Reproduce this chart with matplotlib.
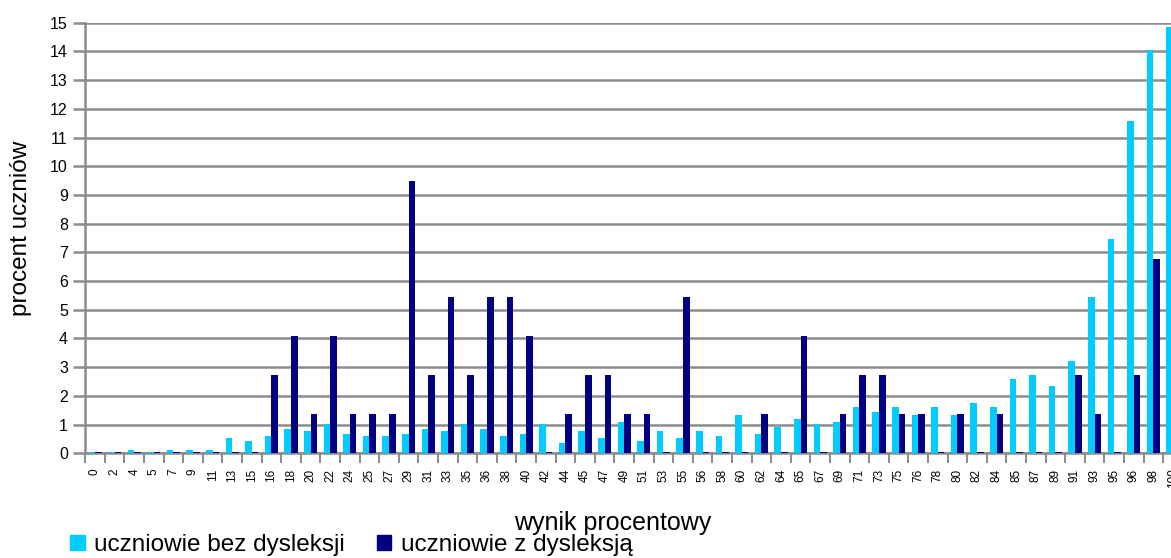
import matplotlib
matplotlib.use("Agg")
import matplotlib.pyplot as plt
from matplotlib.patches import Patch
import numpy as np

plt.rcParams['font.family'] = ['Liberation Sans', 'DejaVu Sans']

# wynik procentowy (categories)
wyniki = ['0', '2', '4', '5', '7', '9', '11', '13', '15', '16', '18', '20', '22', '24',
          '25', '27', '29', '31', '33', '35', '36', '38', '40', '42', '44', '45', '47',
          '49', '51', '53', '55', '56', '58', '60', '62', '64', '65', '67', '69', '71',
          '73', '75', '76', '78', '80', '82', '84', '85', '87', '89', '91', '93', '95',
          '96', '98', '100']

# procent uczniow bez dysleksji
bez_dysleksji = [0.05, 0.05, 0.11, 0.05, 0.1, 0.1, 0.1, 0.52, 0.43, 0.6, 0.85, 0.78, 1.02, 0.68,
                 0.6, 0.6, 0.68, 0.85, 0.77, 1.02, 0.85, 0.6, 0.68, 1.02, 0.35, 0.77, 0.52,
                 1.1, 0.43, 0.77, 0.52, 0.77, 0.6, 1.35, 0.68, 0.93, 1.18, 1.02, 1.1, 1.6,
                 1.43, 1.6, 1.35, 1.6, 1.35, 1.75, 1.6, 2.58, 2.74, 2.33, 3.22, 5.43, 7.48,
                 11.58, 14.05, 14.85]

# procent uczniow z dysleksja
z_dysleksja = [0.05, 0.05, 0.05, 0.05, 0.05, 0.05, 0.05, 0.05, 0.05, 2.72, 4.07, 1.36, 4.07, 1.36,
               1.36, 1.36, 9.48, 2.72, 5.43, 2.72, 5.43, 5.43, 4.07, 0.05, 1.36, 2.72, 2.72,
               1.36, 1.36, 0.05, 5.43, 0.05, 0.05, 0.05, 1.36, 0.05, 4.07, 0.05, 1.36, 2.72,
               2.72, 1.36, 1.36, 0.05, 1.36, 0.05, 1.36, 0.05, 0.05, 0.05, 2.72, 1.36, 0.05,
               2.72, 6.78, 2.7]

light = '#00CCFF'
dark = '#000080'
grey = '#8c8c8c'

fig = plt.figure(figsize=(11.71, 5.58), dpi=100)
# plot area runs a little past the right edge, as in the original
ax = fig.add_axes([85.2 / 1171, 104.7 / 558, 1097.6 / 1171, 430.6 / 558])

x = np.arange(len(wyniki))
w = 0.34
ax.bar(x - w / 2, bez_dysleksji, w, color=light, zorder=3)
ax.bar(x + w / 2, z_dysleksja, w, color=dark, zorder=3)

ax.set_xlim(-0.5, len(wyniki) - 0.5)
ax.set_ylim(0, 15)
ax.set_yticks(range(0, 16))
ax.yaxis.grid(True, color=grey, linewidth=1.8, zorder=0)
ax.set_axisbelow(True)

ax.set_xticks(x)
ax.set_xticklabels(wyniki, rotation=90, fontsize=8.5)
ax.set_xticks(np.arange(-0.5, len(wyniki)), minor=True)
ax.tick_params(axis='x', which='major', length=0, pad=11)
ax.tick_params(axis='x', which='minor', length=7, width=1.5, color=grey)
ax.tick_params(axis='y', length=8.5, width=1.8, color=grey, labelsize=11.5, pad=4)

for s in ['top', 'right']:
    ax.spines[s].set_visible(False)
ax.spines['left'].set_color(grey)
ax.spines['left'].set_linewidth(1.8)
ax.spines['bottom'].set_color(grey)
ax.spines['bottom'].set_linewidth(1.8)

fig.text(21 / 1171, 1 - 228 / 558, 'procent uczniów', fontsize=17.5, rotation=90,
         ha='center', va='center')
fig.text(613 / 1171, 1 - 523 / 558, 'wynik procentowy', fontsize=18, ha='center', va='center')

handles = [Patch(color=light, label='uczniowie bez dysleksji'),
           Patch(color=dark, label='uczniowie z dysleksją')]
fig.legend(handles=handles, loc='center left', bbox_to_anchor=(70 / 1171, 1 - 545 / 558),
           ncol=2, frameon=False, fontsize=17.5, handlelength=0.6, handleheight=0.6,
           handletextpad=0.4, columnspacing=1.3, borderaxespad=0, borderpad=0)

fig.savefig('out.png', dpi=100)
